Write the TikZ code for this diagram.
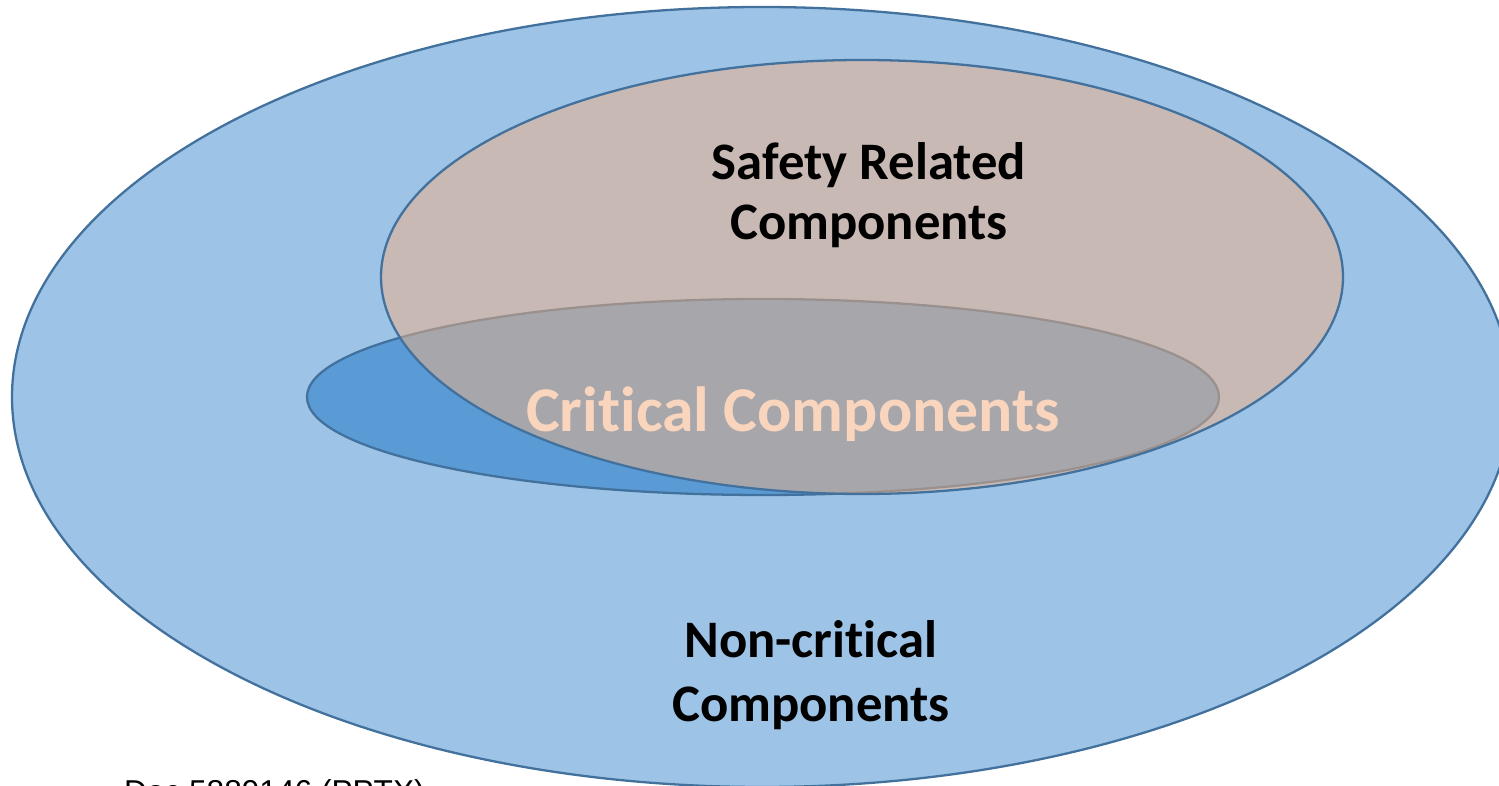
\documentclass[tikz,border=0pt]{standalone}
\usepackage{fontspec}
\setmainfont{Carlito}
\newfontfamily\docfont{Liberation Sans}

% keep t and i apart (Carlito joins them)
\newcommand\tsep{\kern0pt}

\definecolor{rim}{HTML}{41719C}
\definecolor{noncrit}{HTML}{9DC3E6}
\definecolor{crit}{HTML}{5B9BD5}
\definecolor{safety}{HTML}{F4B183}
\definecolor{crittext}{HTML}{F8D5BC}

\begin{document}
\begin{tikzpicture}[x=0.02cm,y=-0.02cm,line width=1.3pt]
\useasboundingbox (0,0) rectangle (1499,786);

\coordinate (o) at (762,397);
\coordinate (s) at (862,277);
\coordinate (c) at (763,397);

% all components
\draw[rim, fill=noncrit] (o) ellipse [x radius=750, y radius=390];

% critical ones, partly covered by the safety set
\draw[rim, fill=crit] (c) ellipse [x radius=456, y radius=98];

\draw[rim, fill=safety, fill opacity=0.5] (s) ellipse [x radius=481, y radius=217];

% base is the last line here
\node[font=\bfseries\fontsize{30}{34.6}\selectfont, align=center, anchor=base] (safe) at (869,240) {Safety Related\\Components};
\node[font=\bfseries\fontsize{36.3}{40}\selectfont, text=crittext, anchor=base] (crl) at (793,432) {Crit\tsep ical Components};
\node[font=\bfseries\fontsize{30}{36.8}\selectfont, align=center, anchor=base] (noncrl) at (811,722) {Non-crit\tsep ical\\Components};

\node[font=\docfont\fontsize{18}{20}\selectfont, anchor=base west, inner sep=0] (doc) at (123,803) {Doc 5889146 (PPTX)};

\end{tikzpicture}
\end{document}
